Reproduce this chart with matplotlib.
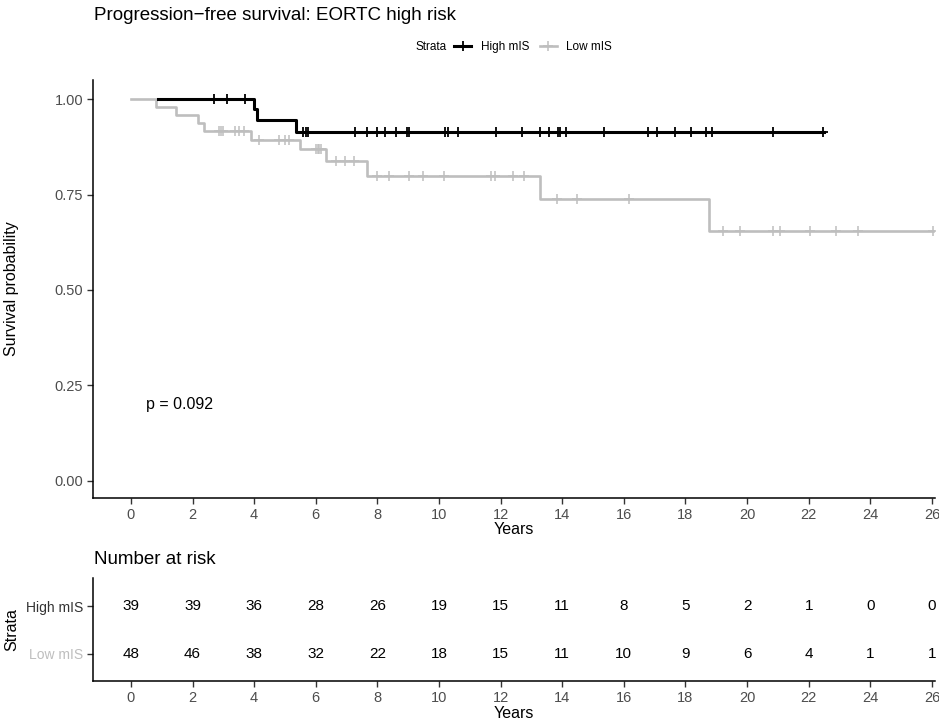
import numpy as np
import matplotlib
matplotlib.use("Agg")
import matplotlib.pyplot as plt
from matplotlib.lines import Line2D

plt.rcParams['font.family'] = ['Liberation Sans', 'DejaVu Sans']

# Kaplan-Meier steps (years, survival)
high_times = [0.88, 4.0, 4.1, 5.37, 22.5]
high_surv = [1.0, 0.973, 0.944, 0.913, 0.913]
high_censor = [2.69, 3.11, 3.69, 5.59, 5.67, 5.75, 7.28, 7.66, 7.99, 8.26, 8.62,
               8.96, 9.03, 10.19, 10.29, 10.62, 11.86, 12.71, 13.27, 13.56, 13.86,
               13.92, 14.11, 15.35, 16.79, 17.09, 17.65, 18.17, 18.68, 18.86,
               20.84, 22.47]

low_times = [0, 0.82, 1.45, 2.18, 2.37, 3.90, 5.50, 6.32, 7.67, 13.27, 18.77, 26.04]
low_surv = [1.0, 0.979, 0.958, 0.937, 0.916, 0.893, 0.868, 0.838, 0.798, 0.738,
            0.655, 0.655]
low_censor = [2.85, 2.92, 3.0, 3.37, 3.51, 3.66, 4.15, 4.81, 4.99, 5.12, 6.0,
              6.06, 6.12, 6.18, 6.65, 6.96, 7.24, 7.99, 8.37, 9.03, 9.48, 10.16,
              11.70, 11.81, 12.40, 12.76, 13.84, 14.48, 16.17, 19.22, 19.76,
              20.84, 21.06, 22.04, 22.88, 23.6, 26.04]

risk_times = list(range(0, 27, 2))
risk_high = [39, 39, 36, 28, 26, 19, 15, 11, 8, 5, 2, 1, 0, 0]
risk_low = [48, 46, 38, 32, 22, 18, 15, 11, 10, 9, 6, 4, 1, 1]

strata = ["High mIS", "Low mIS"]
p_text = "p = 0.092"

BLACK = "#000000"
GREY = "#BEBEBE"
TICKCOL = "#4D4D4D"

W, H = 939, 724
fig = plt.figure(figsize=(W / 100.0, H / 100.0), dpi=100)


def fx(px):
    return px / float(W)


def fy(py):
    return 1 - py / float(H)


def surv_at(times, surv, t):
    i = np.searchsorted(times, t, side="right") - 1
    return np.asarray(surv)[i]


def style_axis(ax):
    for s in ["top", "right"]:
        ax.spines[s].set_visible(False)
    for s in ["left", "bottom"]:
        ax.spines[s].set_linewidth(1.1)
        ax.spines[s].set_color("black")
    ax.tick_params(direction="out", length=4, width=1.0, color="#333333",
                   labelsize=10.5, labelcolor=TICKCOL, pad=3)


ax = fig.add_axes([fx(93), fy(498), fx(935) - fx(93), fy(80) - fy(498)])
curves = [(low_times, low_surv, low_censor, GREY, 1.9, 1.1, 5),
          (high_times, high_surv, high_censor, BLACK, 2.2, 1.3, 6)]
for times, surv, cens, col, lw, mw, z in curves:
    ax.step(times, surv, where="post", color=col, lw=lw, zorder=z)
    ax.plot(cens, surv_at(times, surv, cens), ls="none", marker="+",
            ms=7, mew=mw, color=col, zorder=z)

ax.set_xlim(-1.23, 26.1)
ax.set_ylim(-0.045, 1.05)
ax.set_xticks(risk_times)
ax.set_yticks([0, 0.25, 0.5, 0.75, 1.0])
ax.set_yticklabels(["0.00", "0.25", "0.50", "0.75", "1.00"])
style_axis(ax)
ax.text(0.48, 0.199, p_text, fontsize=11.5, ha="left", va="center")
fig.text(fx(514), fy(529), "Years", fontsize=11.5, ha="center", va="center")
fig.text(fx(12), (fy(80) + fy(498)) / 2, "Survival probability", fontsize=11.5,
         rotation=90, ha="center", va="center")
fig.text(fx(94), fy(16), "Progression\u2212free survival: EORTC high risk",
         fontsize=13.5, ha="left", va="center")

# legend
fig.text(fx(416), fy(47.3), "Strata", fontsize=8.5, ha="left", va="center")
handles = [Line2D([], [], color=BLACK, lw=2.2, marker="+", ms=7, mew=1.3),
           Line2D([], [], color=GREY, lw=1.9, marker="+", ms=7, mew=1.1)]
fig.legend(handles, strata, loc="center", bbox_to_anchor=(fx(533), fy(47.3)),
           ncol=2, frameon=False, fontsize=8.5, handlelength=1.45,
           handletextpad=0.8, columnspacing=0.9)

# risk table
ax2 = fig.add_axes([fx(93), fy(681), fx(935) - fx(93), fy(578) - fy(681)])
for t, nh, nl in zip(risk_times, risk_high, risk_low):
    ax2.text(t, 2, str(nh), fontsize=11, ha="center", va="center")
    ax2.text(t, 1, str(nl), fontsize=11, ha="center", va="center")
ax2.set_xlim(-1.23, 26.1)
ax2.set_ylim(0.42, 2.6)
ax2.set_xticks(risk_times)
ax2.set_yticks([2, 1])
ax2.set_yticklabels(strata)
style_axis(ax2)
ax2.tick_params(axis="y", labelsize=10)
ax2.get_yticklabels()[0].set_color("#333333")
ax2.get_yticklabels()[1].set_color(GREY)
fig.text(fx(94), fy(560), "Number at risk", fontsize=13.5, ha="left", va="center")
fig.text(fx(514), fy(713), "Years", fontsize=11.5, ha="center", va="center")
fig.text(fx(12), fy(630), "Strata", fontsize=11.5, rotation=90,
         ha="center", va="center")

fig.savefig("out.png", dpi=100)
